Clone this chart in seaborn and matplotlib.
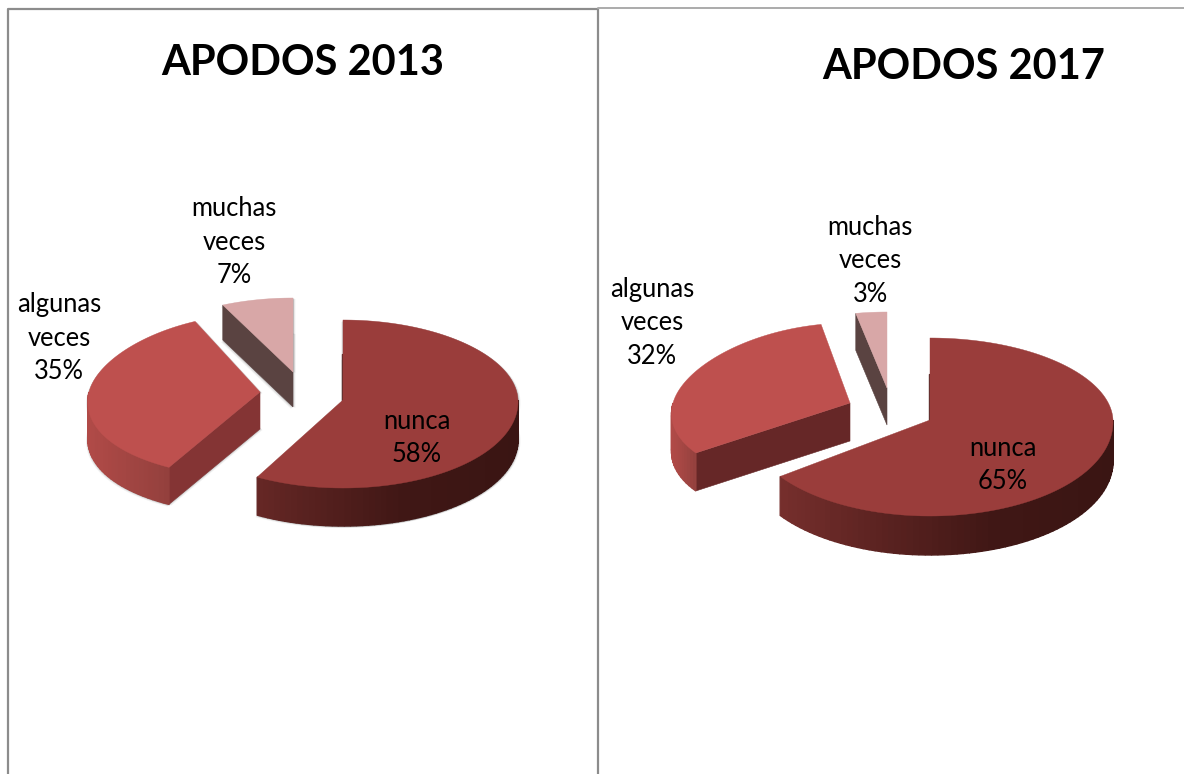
import numpy as np
import matplotlib
matplotlib.use("Agg")
import matplotlib.pyplot as plt
from matplotlib.patches import Polygon
import seaborn as sns

# Survey shares per year
categories = ["nunca", "algunas\nveces", "muchas\nveces"]
years = ["2013", "2017"]
values_2013 = [58, 35, 7]
values_2017 = [65, 32, 3]

top_colors = ["#9A3D3B", "#BE504E", "#D8A7A7"]
rim_stops = [["#7E3230", "#5E2422", "#401715", "#3A1513"],
             ["#B04A47", "#93403D"],
             ["#5A4341", "#5A4341"]]

# Slice geometry in figure pixels: apex x, apex y, rx, back ry, front ry, depth, taper
geometry_2013 = [(343, 400, 175, 80, 88, 38, 0.02),
                 (260, 392, 171, 78, 86, 37, 0.12),
                 (293, 372, 168, 74, 80, 35, 0.02)]
geometry_2017 = [(930, 420, 183, 82, 96, 39, 0.02),
                 (850, 403, 177, 80, 85, 38, 0.13),
                 (887, 388, 170, 76, 82, 37, 0.02)]
face_colors_2013 = [None, "#843434", "#5A4341"]
face_colors_2017 = [None, "#662727", "#5A4341"]
title_spots = [(303, 63), (964, 67)]
label_spots_2013 = [(417, 438), (59, 338), (234, 242)]
label_spots_2017 = [(1003, 465), (652, 323), (870, 261)]

sns.set_theme(style="white")
plt.rcParams["font.family"] = ["Lato", "DejaVu Sans"]

fig = plt.figure(figsize=(11.84, 7.74), dpi=100, facecolor="white")
ax = fig.add_axes([0, 0, 1, 1])
ax.set_xlim(0, 1184)
ax.set_ylim(774, 0)
ax.axis("off")


def rim_point(theta, geom):
    """Point on the top edge of a slice; theta runs clockwise from 12 o'clock."""
    cx, cy, rx, rb, rf, _, taper = geom
    u, v = np.sin(theta), np.cos(theta)
    x = cx + rx * u * (1 - taper * v)
    y = cy - (rb if v > 0 else rf) * v
    return x, y


def outline(t0, t1, geom, n=160):
    angles = np.linspace(t0, t1, n)
    return np.array([rim_point(a, geom) for a in angles])


def draw_slice(t0, t1, geom, top, stops, face, shadow):
    depth = geom[5]
    cx, cy = geom[0], geom[1]
    edge = outline(t0, t1, geom)
    top_poly = np.vstack([[cx, cy], edge])

    # extruded silhouette, used for the soft shadow
    base = top_poly + [0, depth]
    if shadow:
        for off, alpha in ((3.5, 0.10), (2.2, 0.16), (1.0, 0.22)):
            for dx, dy in ((off * 0.7, off * 0.3), (-off * 0.5, off * 0.6)):
                for poly in (top_poly, base):
                    ax.add_patch(Polygon(poly + [dx, dy], closed=True, fc="#808080",
                                         ec="none", alpha=alpha, zorder=1))
            quad = np.vstack([edge, edge[::-1] + [0, depth]])
            ax.add_patch(Polygon(quad + [off * 0.3, off * 0.5], closed=True, fc="#808080",
                                 ec="none", alpha=alpha, zorder=1))

    # flat cut face of the slice, where it turns towards the viewer
    if face is not None:
        p = np.array(rim_point(t0, geom))
        ax.add_patch(Polygon([(cx, cy), p, p + [0, depth], (cx, cy + depth)],
                             closed=True, fc=face, ec=face, lw=0.4, zorder=2))

    # curved outer wall, shaded left to right in overlapping strips
    lo, hi = max(t0, np.pi / 2), min(t1, 3 * np.pi / 2)
    if hi > lo:
        wall = outline(lo, hi, geom, n=max(12, int((hi - lo) * 30)))
        shades = sns.blend_palette(stops, n_colors=120)
        xmin, xmax = cx - geom[2], cx + geom[2]
        if t0 > np.pi:                       # left-hand slices end at the front corner
            xmax = rim_point(t0, geom)[0]
        for a, b in zip(wall[:-1], wall[1:]):
            t = np.clip(((a[0] + b[0]) / 2 - xmin) / (xmax - xmin), 0, 0.999)
            c = shades[int(t * 120)]
            ax.add_patch(Polygon([a, b, b + [0, depth], a + [0, depth]], closed=True,
                                 fc=c, ec=c, lw=1.0, zorder=2))

    ax.add_patch(Polygon(top_poly, closed=True, fc=top, ec=top, lw=0.3, zorder=3))


def draw_pie(values, geometry, faces, shadow):
    fractions = np.array(values, dtype=float) / sum(values)
    ends = np.cumsum(fractions) * 2 * np.pi
    starts = np.r_[0, ends[:-1]]
    for i in (2, 1, 0):
        draw_slice(starts[i], ends[i], geometry[i], top_colors[i], rim_stops[i], faces[i], shadow)
    # dark hairline along the straight edge of the largest slice
    cx, cy = geometry[0][:2]
    ax.plot([cx - 1, cx - 1], [cy, cy - 46], color="#5A2E2C", lw=1.0, zorder=2.5)


def draw_labels(values, spots):
    for name, val, (x, y) in zip(categories, values, spots):
        ax.text(x, y, f"{name}\n{val}%", ha="center", va="center", fontsize=18.4,
                color="black", linespacing=1.41, zorder=5)


draw_pie(values_2013, geometry_2013, face_colors_2013, True)
draw_pie(values_2017, geometry_2017, face_colors_2017, False)
draw_labels(values_2013, label_spots_2013)
draw_labels(values_2017, label_spots_2017)

for year, (x, y) in zip(years, title_spots):
    ax.text(x, y, f"APODOS {year}", ha="center", va="center", fontsize=30,
            fontweight="bold", color="black", zorder=5)

# panel borders
ax.plot([8, 8, 598, 598], [774, 9, 9, 774], color="#8C8C8C", lw=1.6, zorder=4)
ax.plot([598, 1184], [8, 8], color="#ABABAB", lw=1.4, zorder=4)

fig.savefig("out.png", dpi=100, facecolor="white")
